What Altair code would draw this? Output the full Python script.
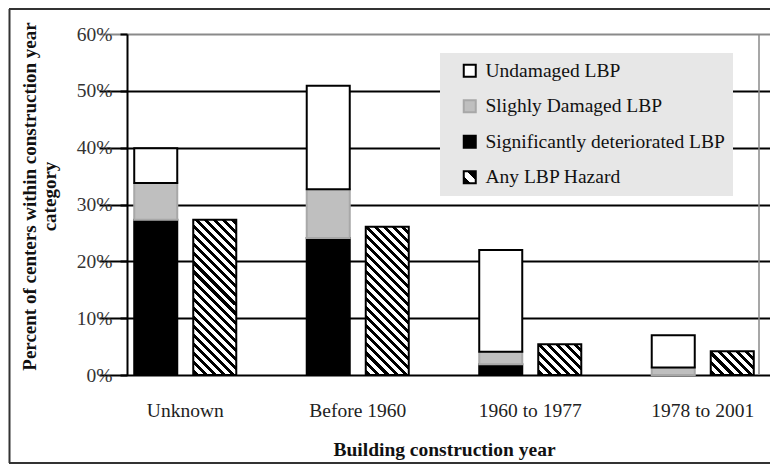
import math
import altair as alt
import pandas as pd

# ---------------- data ----------------
categories = ["Unknown", "Before 1960", "1960 to 1977", "1978 to 2001"]
undamaged = [6.1, 18.2, 17.9, 5.7]
slightly_damaged = [6.5, 8.6, 2.2, 1.3]
significant = [27.3, 24.1, 1.9, 0.0]
any_hazard = [27.3, 26.1, 5.4, 4.2]
series_names = ["Undamaged LBP", "Slighly Damaged LBP",
                "Significantly deteriorated LBP", "Any LBP Hazard"]
y_ticks = [0, 10, 20, 30, 40, 50, 60]

# ---------------- layout ----------------
W, H = 632, 341
YMAX = 60
BAR_W = 43
FONT = "Liberation Serif"

rows = []
for i, c in enumerate(categories):
    for name, vals, rank in [(series_names[2], significant, 0),
                             (series_names[1], slightly_damaged, 1),
                             (series_names[0], undamaged, 2)]:
        rows.append({"cat": c, "series": name, "value": vals[i], "rank": rank, "kind": "stack"})
stack_df = pd.DataFrame(rows)
hatch_df = pd.DataFrame({"cat": categories, "value": any_hazard,
                         "kind": ["hatch"] * len(categories)})


def hatch_gradient(value, period=6.4, black=0.45):
    """Diagonal '\\' stripes as a hard-stop linear gradient, 45deg in pixel space."""
    h = max(value * H / YMAX, 1.0)
    w = BAR_W
    c = (1 / h + 1 / w) / (1 / h ** 2 + 1 / w ** 2)
    x2 = c / h
    y2 = 1 - c / w
    D = (w + h) / math.sqrt(2)
    stops = [alt.GradientStop(offset=0, color="white")]
    pos = 1.5
    while pos < D:
        a = pos / D
        b = min((pos + period * black) / D, 1.0)
        stops += [alt.GradientStop(offset=a, color="white"),
                  alt.GradientStop(offset=a, color="black"),
                  alt.GradientStop(offset=b, color="black"),
                  alt.GradientStop(offset=b, color="white")]
        pos += period
    stops.append(alt.GradientStop(offset=1, color="white"))
    return alt.LinearGradient(gradient="linear", stops=stops,
                              x1=0, y1=1, x2=x2, y2=y2)


legend_hatch = ("{gradient: 'linear', x1: 0, y1: 1, x2: 1, y2: 0.0001, stops: ["
                "{offset: 0, color: 'black'}, {offset: 0.3, color: 'black'}, "
                "{offset: 0.3, color: 'white'}, {offset: 0.62, color: 'white'}, "
                "{offset: 0.62, color: 'black'}, {offset: 1, color: 'black'}]}")

x_scale = alt.Scale(domain=categories, range=[-28, 662], paddingInner=0, paddingOuter=0)
xoff_scale = alt.Scale(domain=["stack", "hatch"], paddingInner=0.271, paddingOuter=0.597)
y_scale = alt.Scale(domain=[0, YMAX], nice=False, zero=True)

xaxis = alt.Axis(title="Building construction year", domain=False, ticks=False,
                 labelAngle=0, labelFont=FONT, labelFontSize=19.5, labelColor="#222",
                 labelPadding=26, titleFont=FONT, titleFontSize=19.5,
                 titleFontWeight="bold", titleColor="#111", titleY=80,
                 titleBaseline="alphabetic", grid=False)

yaxis = alt.Axis(values=y_ticks, labelExpr="datum.value + '%'",
                 title=["Percent of centers within construction year", "category"],
                 titleFont=FONT, titleFontSize=19, titleFontWeight="bold",
                 titleAngle=-90, titleX=-92, titleY=162, titleAlign="center",
                 titleBaseline="alphabetic", titleLineHeight=20, titleColor="#111",
                 labelFont=FONT, labelFontSize=19.5, labelColor="#333", labelPadding=8,
                 tickSize=7, tickColor="black", tickWidth=2,
                 domainColor="black", domainWidth=2, grid=True,
                 gridColor={"condition": {"test": "datum.value === 60", "value": "#8a8a8a"},
                            "value": "black"},
                 gridWidth=2)

X = alt.X("cat:N", scale=x_scale, axis=xaxis, sort=categories)
XO = alt.XOffset("kind:N", scale=xoff_scale)

legend = alt.Legend(title=None, orient="none", legendX=313, legendY=19,
                    fillColor="#e7e7e7", padding=8, symbolType="square",
                    symbolSize=144, symbolStrokeWidth=2, symbolOffset=12,
                    labelOffset=6, labelFont=FONT, labelFontSize=19.5,
                    labelColor="#111", rowPadding=14.5, labelLimit=400)

stack = alt.Chart(stack_df).mark_bar(strokeWidth=2).encode(
    x=X,
    xOffset=XO,
    y=alt.Y("value:Q", scale=y_scale, stack="zero", axis=yaxis),
    fill=alt.Fill("series:N", legend=legend,
                  scale=alt.Scale(domain=series_names,
                                  range=["white", "#bfbfbf", "black", {"expr": legend_hatch}])),
    stroke=alt.Stroke("series:N", legend=legend,
                      scale=alt.Scale(domain=series_names,
                                      range=["black", "#a8a8a8", "black", "black"])),
    order=alt.Order("rank:Q"),
)

hatch_layers = []
for c, v in zip(categories, any_hazard):
    hatch_layers.append(
        alt.Chart(hatch_df).transform_filter(alt.datum.cat == c)
        .mark_bar(fill=hatch_gradient(v), stroke="black", strokeWidth=2)
        .encode(x=X, xOffset=XO, y=alt.Y("value:Q", scale=y_scale, axis=yaxis))
    )

one = pd.DataFrame({"a": [0]})
right_border = alt.Chart(one).mark_rule(color="#8a8a8a", strokeWidth=1.5).encode(
    x=alt.value(W), y=alt.value(0), y2=alt.value(H))
frame_left = alt.Chart(one).mark_rule(color="#333", strokeWidth=2).encode(
    x=alt.value(-117.5), y=alt.value(-25), y2=alt.value(429))
frame_top = alt.Chart(one).mark_rule(color="#333", strokeWidth=2).encode(
    x=alt.value(-118), x2=alt.value(645), y=alt.value(-25))
frame_bottom = alt.Chart(one).mark_rule(color="#333", strokeWidth=2).encode(
    x=alt.value(-118), x2=alt.value(645), y=alt.value(429))

chart = alt.layer(stack, *hatch_layers, right_border, frame_left, frame_top, frame_bottom).properties(
    width=W, height=H,
    autosize=alt.AutoSizeParams(type="none"),
    padding={"left": 119, "top": 26, "right": 11, "bottom": 89},
    background="white",
).configure_view(stroke="transparent")

chart.save("out.html", embed_options={"renderer": "svg", "actions": False})
